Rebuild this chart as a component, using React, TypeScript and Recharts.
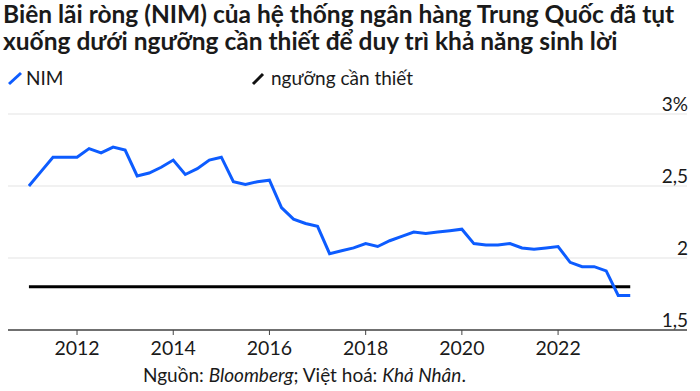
import React from "react";
import { LineChart, Line, XAxis, YAxis, CartesianGrid } from "recharts";

const startYear = 2011;
const nimValues = [
  2.5, 2.6, 2.7, 2.7, 2.7, 2.76, 2.73, 2.77, 2.75, 2.57,
  2.59, 2.63, 2.68, 2.58, 2.62, 2.68, 2.7, 2.53, 2.51, 2.53,
  2.54, 2.35, 2.27, 2.24, 2.22, 2.03, 2.05, 2.07, 2.1, 2.08,
  2.12, 2.15, 2.18, 2.17, 2.18, 2.19, 2.2, 2.1, 2.09, 2.09,
  2.1, 2.07, 2.06, 2.07, 2.08, 1.97, 1.94, 1.94, 1.91, 1.74,
  1.74,
];
const thresholdValue = 1.8;
const xTicks = [2012, 2014, 2016, 2018, 2020, 2022];
const yTicks = [1.5, 2, 2.5, 3];
const yTickLabels = ["1,5", "2", "2,5", "3%"];

const data = nimValues.map((v, i) => ({
  t: startYear + i / 4,
  nim: v,
  nguong: thresholdValue,
}));

const FONT = "Lato, 'Noto Sans', sans-serif";

const YTick = (props: any) => {
  const { y, payload } = props;
  const idx = yTicks.indexOf(payload.value);
  return (
    <text x={688} y={y - 3.5} textAnchor="end" fontFamily={FONT} fontSize={19} fill="#1a1a1a">
      {yTickLabels[idx]}
    </text>
  );
};

export default function App() {
  return (
    <div style={{ position: "absolute", left: 0, top: 0, width: 700, height: 391, background: "#fff", fontFamily: FONT }}>
      <div style={{ position: "absolute", left: 3, top: 0, fontSize: 24.5, fontWeight: 700, lineHeight: "27px", color: "#1a1a1a", whiteSpace: "nowrap" }}>
        Biên lãi ròng (NIM) của hệ thống ngân hàng Trung Quốc đã tụt<br />
        xuống dưới ngưỡng cần thiết để duy trì khả năng sinh lời
      </div>
      <div style={{ position: "absolute", left: 0, top: 66, width: 700, height: 24, fontSize: 19, color: "#1a1a1a", whiteSpace: "nowrap" }}>
        <svg style={{ position: "absolute", left: 7, top: 5 }} width={16} height={16}>
          <line x1={2} y1={13} x2={14} y2={2} stroke="#0d5cff" strokeWidth={3} />
        </svg>
        <span style={{ position: "absolute", left: 26, top: 0 }}>NIM</span>
        <svg style={{ position: "absolute", left: 250, top: 5 }} width={16} height={16}>
          <line x1={3} y1={13} x2={13} y2={3} stroke="#111" strokeWidth={3} />
        </svg>
        <span style={{ position: "absolute", left: 271, top: 0 }}>ngưỡng cần thiết</span>
      </div>
      <div style={{ position: "absolute", left: 0, top: 0 }}>
        <LineChart
          width={700}
          height={391}
          data={data}
          margin={{ top: 114, right: 0, bottom: 31, left: 8 }}
        >
          <CartesianGrid horizontal vertical={false} stroke="#e3e3e3" strokeWidth={1} />
          <XAxis
            dataKey="t"
            type="number"
            domain={[2010.565, 2024.68]}
            ticks={xTicks}
            height={30}
            axisLine={{ stroke: "#444", strokeWidth: 1.3 }}
            tickLine={{ stroke: "#444" }}
            tickSize={5}
            tick={{ fontFamily: FONT, fontSize: 19.5, fill: "#1a1a1a" }}
            tickMargin={6}
            allowDataOverflow
          />
          <YAxis
            orientation="right"
            width={13}
            domain={[1.5, 3]}
            ticks={yTicks}
            axisLine={false}
            tickLine={false}
            tick={<YTick />}
            allowDataOverflow
          />
          <Line dataKey="nguong" stroke="#000" strokeWidth={3} dot={false} isAnimationActive={false} />
          <Line dataKey="nim" stroke="#0d5cff" strokeWidth={3} dot={false} isAnimationActive={false} />
        </LineChart>
      </div>
      <div style={{ position: "absolute", left: 143, top: 363, fontSize: 19, color: "#1a1a1a", whiteSpace: "nowrap" }}>
        Nguồn: <i>Bloomberg</i>; Việt hoá: <i>Khả Nhân</i>.
      </div>
    </div>
  );
}
